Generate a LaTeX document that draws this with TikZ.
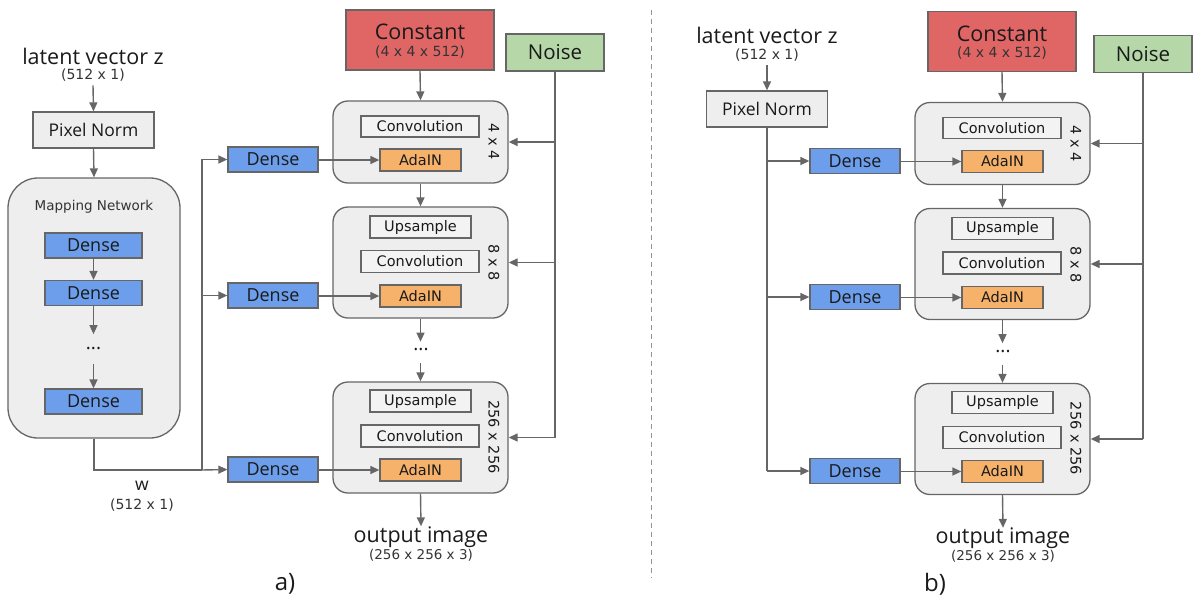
\documentclass[tikz,border=0pt]{standalone}
\usepackage{fontspec}
\newfontfamily\osans{Open Sans}
\newfontfamily\dvs{DejaVu Sans}
\usetikzlibrary{arrows.meta}
\definecolor{edge}{HTML}{666666}
\definecolor{boxgray}{HTML}{EEEEEE}
\definecolor{lightbox}{HTML}{F3F3F3}
\definecolor{densebl}{HTML}{6D9EEB}
\definecolor{adaor}{HTML}{F6B26B}
\definecolor{constred}{HTML}{E06666}
\definecolor{noisegr}{HTML}{B6D7A8}
\definecolor{inkc}{HTML}{1A1A1A}
\definecolor{subink}{HTML}{333333}

\newcommand\bigfont[1]{\osans\fontsize{#1}{#1}\selectfont}
\newcommand\smallfont[1]{\dvs\fontsize{#1}{#1}\selectfont}

\tikzset{
  conn/.style={draw=edge, line width=1.4pt},
  trunk/.style={draw=edge, line width=2.6pt},
  arr/.style={conn, -{Triangle[length=9pt,width=8pt]}},
  box/.style={draw=edge, line width=1.3pt, inner sep=0pt, text=inkc},
  densebox/.style={box, fill=densebl, minimum width=90pt, minimum height=25pt, font=\bigfont{18}},
  stage/.style={box, fill=boxgray, rounded corners=15pt, minimum width=175pt},
  opbox/.style={box, fill=lightbox, minimum height=22pt, font=\smallfont{14.5}},
  adabox/.style={box, fill=adaor, minimum width=81pt, minimum height=22pt, font=\smallfont{14.5}},
  normbox/.style={box, fill=boxgray, minimum width=121pt, minimum height=36pt, font=\bigfont{17.5}},
  title/.style={text=inkc, inner sep=0pt, font=\bigfont{21.5}},
  sub/.style={text=subink, inner sep=0pt, font=\smallfont{14}},
  sizelbl/.style={text=inkc, inner sep=0pt, rotate=-90, font=\smallfont{14.5}},
  dots/.style={text=inkc, inner sep=0pt, font=\bigfont{19}},
}

% synthesis network: #1 name prefix, #2 horizontal shift, #3 extra shift of the noise column
\newcommand\synthnet[3]{%
\begin{scope}[xshift=#2pt]
  % constant input and noise source
  \node[box, fill=constred, minimum width=148pt, minimum height=60pt] (#1const) at (420,40) {};
  \node[title] at (420,32) {Constant};
  \node[sub] at (420,52) {(4 x 4 x 512)};
  \node[box, fill=noisegr, minimum width=98pt, minimum height=37pt, font=\bigfont{20.5}] (#1noise) at (555+#3,52.5) {Noise};

  % 4 x 4 stage
  \node[stage, minimum height=82pt] (#1s1) at (420.5,142) {};
  \node[opbox, minimum width=118pt, minimum height=21pt] (#1c1) at (420,126.5) {Convolution};
  \node[adabox] (#1a1) at (420.5,160) {AdaIN};
  \node[sizelbl] at (494,142) {4 x 4};

  % 8 x 8 stage
  \node[stage, minimum height=111pt] (#1s2) at (420.5,262.5) {};
  \node[opbox, minimum width=101pt] (#1u2) at (420.5,227) {Upsample};
  \node[opbox, minimum width=118pt] (#1c2) at (420,261.5) {Convolution};
  \node[adabox] (#1a2) at (420.5,296) {AdaIN};
  \node[sizelbl] at (494,263) {8 x 8};

  \node[dots] (#1dots) at (421,350) {...};

  % 256 x 256 stage
  \node[stage, minimum height=111pt] (#1s3) at (420.5,437.5) {};
  \node[opbox, minimum width=101pt] (#1u3) at (420.5,401) {Upsample};
  \node[opbox, minimum width=118pt] (#1c3) at (420,436) {Convolution};
  \node[adabox] (#1a3) at (420.5,470) {AdaIN};
  \node[sizelbl] at (494,437) {256 x 256};

  % style inputs
  \node[densebox] (#1d1) at (273,159.5) {Dense};
  \node[densebox] (#1d2) at (273,295.5) {Dense};
  \node[densebox] (#1d3) at (273,469.5) {Dense};

  % output
  \node[title] (#1out) at (421,537) {output image};
  \node[sub, font=\smallfont{13.5}] at (421,555) {(256 x 256 x 3)};

  % vertical flow
  \draw[arr] (#1const.south) -- (#1s1.north);
  \draw[arr] (#1s2.north |- #1s1.south) -- (#1s2.north);
  \draw[arr] (#1s2.south) -- ++(0,23);
  \draw[arr] (#1s3.north) ++(0,-18) -- (#1s3.north);
  \draw[arr] (#1s3.south) -- (#1out.north);

  % noise injection
  \coordinate (#1nz) at (#1noise.south |- #1s3.east);
  \draw[conn] (#1noise.south) -- (#1nz);
  \draw[arr] (#1nz) -- (#1s3.east);
  \draw[arr] (#1noise.south |- #1s2.east) -- (#1s2.east);
  \draw[arr] (#1noise.south |- #1s1.east) -- (#1s1.east);

  % dense to AdaIN
  \draw[arr] (#1d1.east |- #1a1.west) -- (#1a1.west);
  \draw[arr] (#1d2.east |- #1a2.west) -- (#1a2.west);
  \draw[arr] (#1d3.east |- #1a3.west) -- (#1a3.west);
\end{scope}}

\begin{document}
\begin{tikzpicture}[x=1pt, y=-1pt]
  \useasboundingbox (0,0) rectangle (1193,600);

  % ---------- a) StyleGAN with mapping network ----------
  \node[title] (az) at (93,56) {latent vector z};
  \node[sub] (azs) at (93,75) {(512 x 1)};
  \node[normbox] (anorm) at (93.5,130) {Pixel Norm};
  \node[box, fill=boxgray, rounded corners=30pt, minimum width=172pt, minimum height=260pt] (map) at (94,308) {};
  \node[text=subink, inner sep=0pt, font=\smallfont{13.5}] at (94,207) {Mapping Network};
  \node[densebox, minimum width=97pt] (m1) at (93.5,245.5) {Dense};
  \node[densebox, minimum width=97pt] (m2) at (93.5,293) {Dense};
  \node[dots] (mdots) at (93.5,349) {...};
  \node[densebox, minimum width=97pt] (m3) at (93.5,401.5) {Dense};

  \draw[arr] (azs.south) ++(0,4) -- (anorm.north);
  \draw[arr] (anorm.south) -- (map.north);
  \draw[arr] (m1.south) -- (m2.north);
  \draw[arr] (m2.south) -- ++(0,28);
  \draw[arr] (m3.north) ++(0,-24) -- (m3.north);

  \synthnet{a}{0}{0}

  % w branches to the style inputs
  \coordinate (wsplit) at (202,470);
  \draw[trunk] (map.south) |- (wsplit);
  \draw[arr] (wsplit) -- (ad3.west);
  \draw[arr] (wsplit) |- (ad1.west);
  \draw[arr] (wsplit |- ad2.west) -- (ad2.west);
  \node[text=inkc, inner sep=0pt, font=\bigfont{17.5}] (wl) at (142,486) {w};
  \node[sub] at (142,505) {(512 x 1)};

  \node[text=inkc, inner sep=0pt, font=\bigfont{24}] at (285,584) {a)};

  % divider
  \draw[edge!70, line width=1pt, dash pattern=on 5pt off 4pt] (651,10) -- (651,578);

  % ---------- b) without mapping network ----------
  \node[title] (bz) at (767,35) {latent vector z};
  \node[sub] (bzs) at (767,55) {(512 x 1)};
  \node[normbox] (bnorm) at (767,109) {Pixel Norm};
  \draw[arr] (bzs.south) ++(0,4) -- (bnorm.north);

  \begin{scope}[yshift=-1.5pt]
  \synthnet{b}{582}{6}
  \end{scope}

  \coordinate (bsplit) at (bnorm.south |- bd3.west);
  \draw[conn] (bnorm.south) -- (bsplit);
  \draw[arr] (bsplit) -- (bd3.west);
  \draw[arr] (bnorm.south |- bd1.west) -- (bd1.west);
  \draw[arr] (bnorm.south |- bd2.west) -- (bd2.west);

  \node[text=inkc, inner sep=0pt, font=\bigfont{24}] at (935,584) {b)};
\end{tikzpicture}
\end{document}
